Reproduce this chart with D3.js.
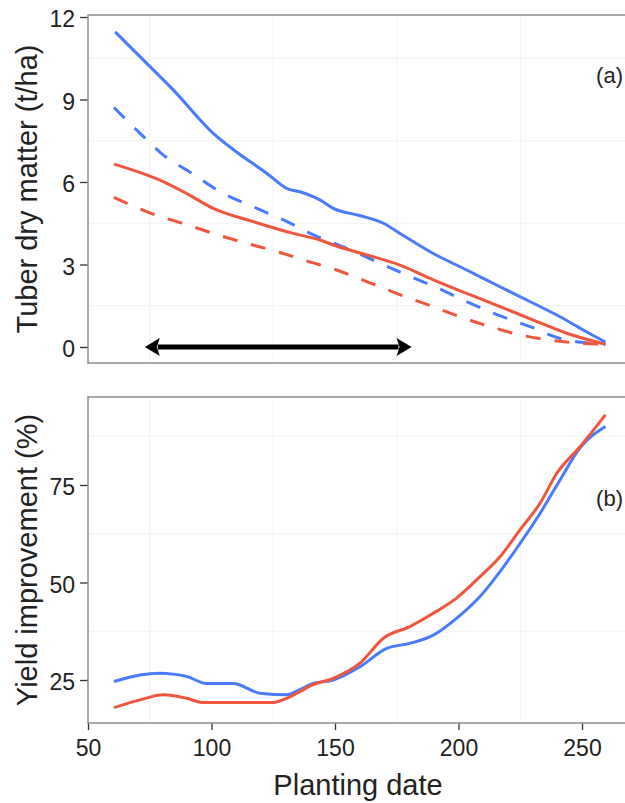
<!DOCTYPE html>
<html>
<head>
<meta charset="utf-8">
<script src="https://cdn.jsdelivr.net/npm/d3@7"></script>
<style>
  html, body { margin: 0; padding: 0; background: #fff; }
  svg { display: block; font-family: "Liberation Sans", Arial, sans-serif; }
</style>
</head>
<body>
<svg id="chart" width="625" height="803"></svg>
<script>
// ---------- data ----------
const xTicks = [50, 100, 150, 200, 250];
const yTicksTop = [0, 3, 6, 9, 12];
const yTicksBottom = [25, 50, 75];

// Panel (a): tuber dry matter (t/ha) vs planting date
const blueSolid = [[61,11.46],[70,10.65],[84.5,9.35],[100.7,7.77],[110,7.1],[122.3,6.32],[130.4,5.77],[137,5.61],[143.9,5.35],[149.3,5.04],[160,4.78],[169.6,4.5],[176.3,4.13],[189.8,3.40],[203.3,2.80],[216.8,2.19],[230.3,1.59],[241.1,1.10],[250.5,0.62],[259.5,0.18]];
const blueDashed = [[60.5,8.71],[71.1,7.77],[80.5,6.98],[92,6.32],[103.4,5.65],[116.9,5.10],[129.1,4.62],[142,4.05],[154.7,3.59],[166.9,3.10],[179,2.62],[191.9,2.13],[203.3,1.65],[216.1,1.16],[229,0.74],[241.1,0.31],[254.5,0.13],[259.5,0.1]];
const redSolid = [[60.5,6.65],[70,6.38],[79.1,6.07],[90,5.58],[100.7,5.04],[116.9,4.56],[133.1,4.13],[143.9,3.89],[149.3,3.71],[162.8,3.35],[176.3,2.98],[189.8,2.44],[203.3,1.95],[216.8,1.47],[230.3,0.98],[243.8,0.50],[259.5,0.1]];
const redDashed = [[60.5,5.44],[75.8,4.85],[88.6,4.49],[100.7,4.13],[114.2,3.77],[126.4,3.47],[138.5,3.13],[150.7,2.80],[162.8,2.38],[174.9,1.95],[187.8,1.53],[200.6,1.10],[212.8,0.74],[224.9,0.44],[237.7,0.24],[250.5,0.13],[259.5,0.1]];
const arrowRange = [73, 181];

// Panel (b): yield improvement (%)
const blueYield = [[60.5,24.6],[71.1,26.3],[79.1,26.7],[84.5,26.5],[90,25.9],[98,24.1],[108.8,24.1],[119.6,21.6],[130.4,21.2],[136,22.6],[141.2,24.1],[149.3,25.0],[160.1,28.4],[170.9,33.1],[180.3,34.4],[189.8,36.5],[199.2,40.8],[208.7,46.4],[216.8,52.8],[224.9,60.0],[233,67.7],[241.1,76.3],[249.2,84.5],[259.5,90.0]];
const redYield = [[60.5,17.9],[71.1,19.9],[80.5,21.2],[90,20.3],[96.7,19.2],[108.8,19.2],[124.4,19.2],[130.4,20.3],[135.8,22.0],[139.9,23.5],[149.3,25.4],[160.1,29.3],[169.6,35.7],[180.3,38.7],[189.8,42.1],[199.2,46.0],[208.7,51.5],[216.8,56.6],[224.9,63.5],[233,70.3],[239.8,78.0],[249.2,84.8],[259.5,93.0]];

// ---------- layout ----------
const BLUE = "#4a7bff", RED = "#f0553d";
const L = 88, R = 632;
const top1 = 15, bot1 = 363, top2 = 397, bot2 = 723;
const svg = d3.select("#chart");

const x = d3.scaleLinear().domain([50, 270.24]).range([L, R]);
const y1 = d3.scaleLinear().domain([-0.582, 12.073]).range([bot1, top1]);
const y2 = d3.scaleLinear().domain([13.97, 97.56]).range([bot2, top2]);

function panel(id, yS, top, bot, yTicks, minorY, showX) {
  const g = svg.append("g");
  g.append("clipPath").attr("id", id).append("rect")
    .attr("x", L).attr("y", top).attr("width", R - L).attr("height", bot - top);
  // minor grid
  const minorX = [75, 125, 175, 225];
  g.selectAll(".gx").data(minorX).enter().append("line")
    .attr("x1", d => x(d)).attr("x2", d => x(d)).attr("y1", top).attr("y2", bot)
    .attr("stroke", "#f2f2f2").attr("stroke-width", 1);
  g.selectAll(".gy").data(minorY).enter().append("line")
    .attr("x1", L).attr("x2", R).attr("y1", d => yS(d)).attr("y2", d => yS(d))
    .attr("stroke", "#f2f2f2").attr("stroke-width", 1);
  // y axis
  const ya = g.append("g").attr("transform", `translate(${L},0)`)
    .call(d3.axisLeft(yS).tickValues(yTicks).tickSize(8).tickPadding(5));
  ya.select(".domain").remove();
  ya.selectAll(".tick line").attr("stroke", "#333").attr("stroke-width", 1.3);
  ya.selectAll(".tick text").attr("fill", "#222").attr("dy", "0.42em").style("font-size", "23px");
  if (showX) {
    const xa = g.append("g").attr("transform", `translate(0,${bot})`)
      .call(d3.axisBottom(x).tickValues(xTicks).tickSize(7).tickPadding(10));
    xa.select(".domain").remove();
    xa.selectAll(".tick line").attr("stroke", "#333").attr("stroke-width", 1.3);
    xa.selectAll(".tick text").attr("fill", "#222").style("font-size", "23px");
  }
  const plot = g.append("g").attr("clip-path", `url(#${id})`);
  // border
  g.append("rect").attr("x", L).attr("y", top).attr("width", R - L).attr("height", bot - top)
    .attr("fill", "none").attr("stroke", "#8c8c8c").attr("stroke-width", 1.5);
  return plot;
}

const p1 = panel("clip1", y1, top1, bot1, yTicksTop, [1.5, 4.5, 7.5, 10.5], false);
const p2 = panel("clip2", y2, top2, bot2, yTicksBottom, [37.5, 62.5, 87.5], true);

const line1 = d3.line().x(d => x(d[0])).y(d => y1(d[1])).curve(d3.curveMonotoneX);
const line2 = d3.line().x(d => x(d[0])).y(d => y2(d[1])).curve(d3.curveMonotoneX);

[[blueDashed, BLUE, "15,14"], [redDashed, RED, "15,14"], [redSolid, RED, null], [blueSolid, BLUE, null]]
  .forEach(([data, col, dash]) => {
    p1.append("path").datum(data).attr("d", line1).attr("fill", "none")
      .attr("stroke", col).attr("stroke-width", 3)
      .attr("stroke-dasharray", dash);
  });
[[blueYield, BLUE], [redYield, RED]].forEach(([data, col]) => {
  p2.append("path").datum(data).attr("d", line2).attr("fill", "none")
    .attr("stroke", col).attr("stroke-width", 3);
});

// double-headed arrow in panel (a)
const ax0 = x(arrowRange[0]), ax1 = x(arrowRange[1]), ay = y1(0);
const hl = 15, hh = 9;
p1.append("line").attr("x1", ax0 + hl - 2).attr("x2", ax1 - hl + 2).attr("y1", ay).attr("y2", ay)
  .attr("stroke", "#000").attr("stroke-width", 5);
p1.append("path").attr("d", `M${ax0},${ay} L${ax0 + hl},${ay - hh} L${ax0 + hl - 3},${ay} L${ax0 + hl},${ay + hh} Z`).attr("fill", "#000");
p1.append("path").attr("d", `M${ax1},${ay} L${ax1 - hl},${ay - hh} L${ax1 - hl + 3},${ay} L${ax1 - hl},${ay + hh} Z`).attr("fill", "#000");

// panel labels
svg.append("text").attr("x", 623).attr("y", 83).attr("text-anchor", "end")
  .style("font-size", "22px").attr("fill", "#222").text("(a)");
svg.append("text").attr("x", 623).attr("y", 506).attr("text-anchor", "end")
  .style("font-size", "22px").attr("fill", "#222").text("(b)");

// axis titles
svg.append("text").attr("transform", `translate(37,${(top1 + bot1) / 2}) rotate(-90)`)
  .attr("text-anchor", "middle").style("font-size", "29px").attr("fill", "#222")
  .text("Tuber dry matter (t/ha)");
svg.append("text").attr("transform", `translate(37,${(top2 + bot2) / 2}) rotate(-90)`)
  .attr("text-anchor", "middle").style("font-size", "29px").attr("fill", "#222")
  .text("Yield improvement (%)");
svg.append("text").attr("x", 358).attr("y", 795)
  .attr("text-anchor", "middle").style("font-size", "29px").attr("fill", "#222")
  .text("Planting date");
</script>
</body>
</html>
